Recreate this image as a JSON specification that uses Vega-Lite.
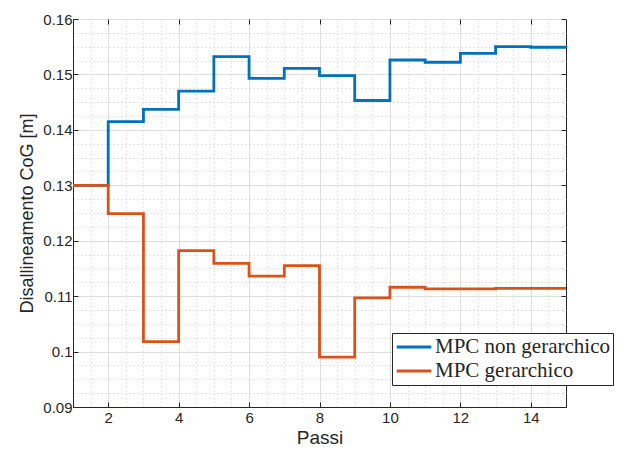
{
  "$schema": "https://vega.github.io/schema/vega-lite/v6.json",
  "width": 493,
  "height": 388,
  "autosize": "none",
  "padding": {"left": 73, "top": 19, "right": 52, "bottom": 43},
  "background": "white",
  "config": {
    "view": {"stroke": "#262626", "strokeWidth": 1},
    "axis": {"labelFont": "Liberation Sans", "titleFont": "Liberation Sans", "labelFontSize": 15, "titleFontSize": 18, "labelColor": "#262626", "titleColor": "#262626", "titleFontWeight": "normal", "domainColor": "#262626", "tickColor": "#262626"}
  },
  "data": {"values": [
    {"x": 1, "y": 0.1300, "s": "MPC non gerarchico"},
    {"x": 2, "y": 0.1415, "s": "MPC non gerarchico"},
    {"x": 3, "y": 0.1437, "s": "MPC non gerarchico"},
    {"x": 4, "y": 0.1470, "s": "MPC non gerarchico"},
    {"x": 5, "y": 0.1532, "s": "MPC non gerarchico"},
    {"x": 6, "y": 0.1493, "s": "MPC non gerarchico"},
    {"x": 7, "y": 0.1511, "s": "MPC non gerarchico"},
    {"x": 8, "y": 0.1498, "s": "MPC non gerarchico"},
    {"x": 9, "y": 0.1453, "s": "MPC non gerarchico"},
    {"x": 10, "y": 0.1526, "s": "MPC non gerarchico"},
    {"x": 11, "y": 0.1522, "s": "MPC non gerarchico"},
    {"x": 12, "y": 0.1538, "s": "MPC non gerarchico"},
    {"x": 13, "y": 0.1550, "s": "MPC non gerarchico"},
    {"x": 14, "y": 0.1549, "s": "MPC non gerarchico"},
    {"x": 15, "y": 0.1548, "s": "MPC non gerarchico"},
    {"x": 1, "y": 0.1300, "s": "MPC gerarchico"},
    {"x": 2, "y": 0.1249, "s": "MPC gerarchico"},
    {"x": 3, "y": 0.1018, "s": "MPC gerarchico"},
    {"x": 4, "y": 0.1182, "s": "MPC gerarchico"},
    {"x": 5, "y": 0.1159, "s": "MPC gerarchico"},
    {"x": 6, "y": 0.1136, "s": "MPC gerarchico"},
    {"x": 7, "y": 0.1155, "s": "MPC gerarchico"},
    {"x": 8, "y": 0.0990, "s": "MPC gerarchico"},
    {"x": 9, "y": 0.1097, "s": "MPC gerarchico"},
    {"x": 10, "y": 0.1116, "s": "MPC gerarchico"},
    {"x": 11, "y": 0.1113, "s": "MPC gerarchico"},
    {"x": 12, "y": 0.1113, "s": "MPC gerarchico"},
    {"x": 13, "y": 0.1114, "s": "MPC gerarchico"},
    {"x": 14, "y": 0.1114, "s": "MPC gerarchico"},
    {"x": 15, "y": 0.1114, "s": "MPC gerarchico"}
  ]},
  "resolve": {"axis": {"x": "independent", "y": "independent"}},
  "layer": [
    {
      "mark": {"type": "line", "strokeOpacity": 0},
      "encoding": {
        "x": {"field": "x", "type": "quantitative", "scale": {"domain": [1, 15], "nice": false, "zero": false},
          "axis": {"orient": "top", "title": null, "labels": false, "ticks": false, "domain": false, "grid": true, "gridDash": [1, 3], "gridColor": "#c8c8c8", "values": [1.5, 2.5, 3, 3.5, 4.5, 5, 5.5, 6.5, 7, 7.5, 8.5, 9, 9.5, 10.5, 11, 11.5, 12.5, 13, 13.5, 14.5]}},
        "y": {"field": "y", "type": "quantitative", "scale": {"domain": [0.09, 0.16], "nice": false, "zero": false},
          "axis": {"orient": "right", "title": null, "labels": false, "ticks": false, "domain": false, "grid": true, "gridDash": [1, 3], "gridColor": "#c8c8c8", "values": [0.0925, 0.095, 0.0975, 0.1025, 0.105, 0.1075, 0.1125, 0.115, 0.1175, 0.1225, 0.125, 0.1275, 0.1325, 0.135, 0.1375, 0.1425, 0.145, 0.1475, 0.1525, 0.155, 0.1575]}}
      }
    },
    {
      "mark": {"type": "line", "strokeOpacity": 0},
      "encoding": {
        "x": {"field": "x", "type": "quantitative",
          "axis": {"orient": "top", "title": null, "labels": false, "ticks": true, "tickSize": -5, "domain": false, "grid": false, "values": [2, 4, 6, 8, 10, 12, 14]}},
        "y": {"field": "y", "type": "quantitative",
          "axis": {"orient": "right", "title": null, "labels": false, "ticks": true, "tickSize": -5, "domain": false, "grid": false, "values": [0.09, 0.1, 0.11, 0.12, 0.13, 0.14, 0.15, 0.16]}}
      }
    },
    {
      "mark": {"type": "line", "interpolate": "step-after", "strokeWidth": 2.8},
      "encoding": {
        "x": {"field": "x", "type": "quantitative",
          "axis": {"orient": "bottom", "title": "Passi", "titleFontSize": 19, "titlePadding": 3, "grid": true, "gridColor": "#dedede", "tickSize": -5, "labelPadding": 8, "values": [2, 4, 6, 8, 10, 12, 14]}},
        "y": {"field": "y", "type": "quantitative",
          "axis": {"orient": "left", "title": "Disallineamento CoG [m]", "titlePadding": 6, "grid": true, "gridColor": "#dedede", "tickSize": -5, "labelPadding": 6, "format": ".2~f", "values": [0.09, 0.1, 0.11, 0.12, 0.13, 0.14, 0.15, 0.16]}},
        "color": {"field": "s", "type": "nominal", "sort": ["MPC non gerarchico", "MPC gerarchico"],
          "scale": {"domain": ["MPC non gerarchico", "MPC gerarchico"], "range": ["#0072BD", "#D95319"]},
          "legend": {"title": null, "orient": "none", "legendX": 319, "legendY": 314, "symbolType": "stroke", "symbolStrokeWidth": 3, "symbolSize": 1200, "clipHeight": 22, "labelOffset": 2, "labelLimit": 400, "labelFont": "Liberation Serif", "labelFontSize": 21, "labelColor": "#262626", "strokeColor": "#262626", "fillColor": "white", "padding": 3, "rowPadding": 2, "cornerRadius": 0}}
      }
    }
  ]
}
